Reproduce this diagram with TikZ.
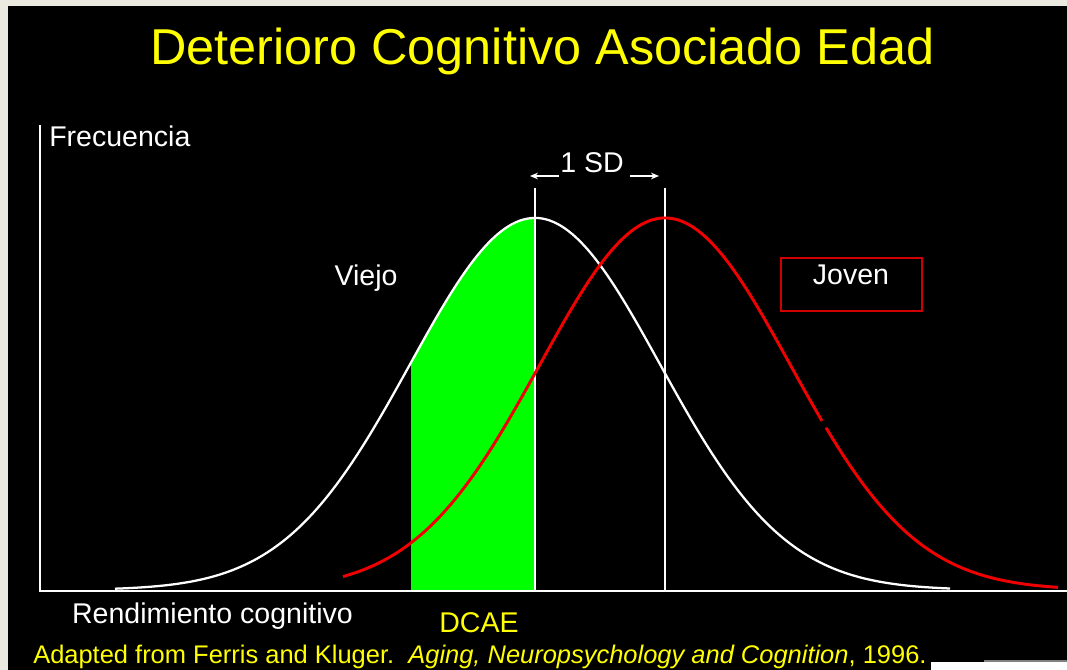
\documentclass[tikz,border=0pt]{standalone}
\usepackage{fontspec}
\setmainfont{Liberation Sans}
\usetikzlibrary{arrows.meta}
\definecolor{frame}{HTML}{ECE9E0}
\definecolor{ttl}{HTML}{FFFF00}
\definecolor{dgreen}{HTML}{00FF00}
\definecolor{cred}{HTML}{F00000}
\definecolor{boxred}{HTML}{D00000}
\tikzset{
  lbl/.style={text=white, inner sep=0pt, font=\fontsize{21.4pt}{25pt}\selectfont},
  ylbl/.style={text=ttl, inner sep=0pt},
  curve/.style={line width=2.2pt, line join=round},
  wcurve/.style={white, line width=1.7pt, line join=round},
  vline/.style={white, line width=1.6pt},
  axis/.style={white, line width=2pt},
  sdarrow/.style={white, line width=1pt, -{Stealth[length=6pt,width=5pt]}},
}
\begin{document}
\begin{tikzpicture}[x=0.75pt,y=-0.75pt]
\useasboundingbox (0,0) rectangle (1067,670);
% background
\fill[frame] (0,0) rectangle (1067,670);
\fill[black] (8,6) rectangle (1067,670);
\fill[white] (931,662) rectangle (1067,670);
\draw[gray, line width=0.8pt] (984,661) -- (1067,661);
% green area DCAE
\fill[dgreen] (411,590) -- plot[domain=411:535, samples=60] (\x, {590-372*exp(-((\x-535)/125)^2/2)}) -- (535,590) -- cycle;
% old curve (white)
\draw[wcurve] plot[domain=115:950, samples=220] (\x, {590-372*exp(-((\x-535)/125)^2/2)});
% SD vertical lines
\coordinate (v1t) at (535,188); \coordinate (v1b) at (535,590);
\coordinate (v2t) at (665,188); \coordinate (v2b) at (665,590);
\draw[vline] (v1t) -- (v1b);
\draw[vline] (v2t) -- (v2b);
% young curve (red), with its small gap
\draw[curve, cred] plot[domain=343:822, samples=200] (\x, {590-372*exp(-((\x-665)/125)^2/2)});
\draw[curve, cred] plot[domain=826:1058, samples=100] (\x, {590-372*exp(-((\x-665)/125)^2/2)});
% axes
\coordinate (ytop) at (40,125);
\coordinate (orig) at (40,591);
\coordinate (xend) at (1067,591);
\draw[axis] (ytop) -- (orig) -- (xend);
% title
\node[ylbl, anchor=base, font=\fontsize{37.8pt}{42pt}\selectfont] (title) at (542.5,65) {Deterioro Cognitivo Asociado Edad};
% labels
\node[lbl, anchor=base west] (frec) at (49,147) {Frecuencia};
\node[lbl, anchor=base] (sd) at (592,173) {1 SD};
\coordinate (al1) at (559,176); \coordinate (al2) at (530,176);
\coordinate (ar1) at (630,176); \coordinate (ar2) at (659,176);
\draw[sdarrow] (al1) -- (al2);
\draw[sdarrow] (ar1) -- (ar2);
\node[lbl, anchor=base] (viejo) at (366,286) {Viejo};
\node[draw=boxred, line width=1.2pt, minimum width=105.75pt, minimum height=39.75pt, inner sep=0pt] (jbox) at (851.5,284.5) {};
\node[lbl, anchor=base] (joven) at (851,285) {Joven};
\node[lbl, anchor=base] (rend) at (212.5,623) {Rendimiento cognitivo};
\node[ylbl, anchor=base, font=\fontsize{21.4pt}{25pt}\selectfont] (dcae) at (479,632) {DCAE};
\node[ylbl, anchor=base west, font=\fontsize{19.1pt}{22pt}\selectfont] (cite) at (33,663) {Adapted from Ferris and Kluger.\ \ \textit{Aging, Neuropsychology and Cognition}, 1996.};
\end{tikzpicture}
\end{document}
